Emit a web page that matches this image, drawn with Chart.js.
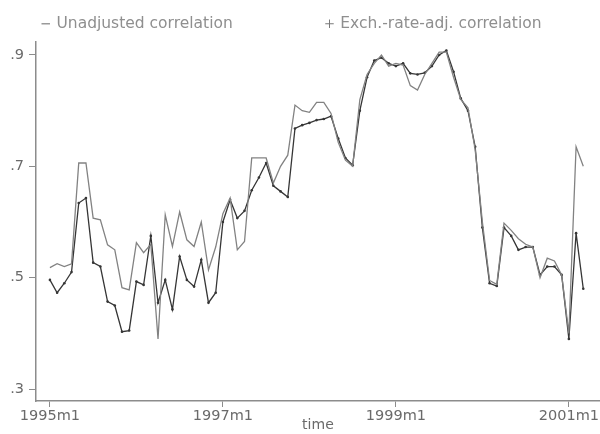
<!DOCTYPE html>
<html>
<head>
<meta charset="utf-8">
<script src="https://cdn.jsdelivr.net/npm/chart.js@4"></script>
<style>
  html, body { margin: 0; padding: 0; background: #fff; }
  canvas { display: block; }
</style>
</head>
<body>
<canvas id="corrChart" width="600" height="434"></canvas>
<script>
// === DATEN: Monatswerte ab 1995m1 (Index 0 = 1995m1) ===
const unadjusted = [
  .518, .525, .520, .525, .706, .706, .607, .604, .559, .550, .482, .478,
  .563, .545, .560, .390, .613, .556, .618, .568, .556, .600, .514, .555,
  .615, .643, .550, .565, .715, .715, .715, .670, .700, .720, .810, .800,
  .797, .815, .815, .795, .743, .711, .700, .820, .865, .885, .900, .880,
  .885, .882, .845, .837, .865, .885, .905, .905, .860, .820, .805, .730,
  .600, .495, .488, .598, .585, .570, .560, .555, .500, .535, .530, .505,
  .400, .735, .700
];
const exchAdjusted = [
  .496, .473, .490, .510, .634, .643, .527, .520, .457, .450, .403, .405,
  .493, .487, .575, .455, .496, .443, .538, .496, .484, .532, .455, .473,
  .600, .640, .607, .620, .657, .680, .706, .665, .655, .645, .768, .774,
  .778, .783, .785, .790, .750, .715, .702, .800, .860, .890, .895, .885,
  .880, .885, .867, .865, .868, .880, .900, .908, .870, .822, .800, .735,
  .590, .490, .485, .590, .575, .550, .555, .555, .505, .520, .520, .505,
  .390, .580, .480
];

// Achsenbeschriftungen
const xTickValues = [0, 24, 48, 72];
const xTickLabels = ['1995m1', '1997m1', '1999m1', '2001m1'];
const yTickValues = [.3, .5, .7, .9];
const yTickLabels = ['.3', '.5', '.7', '.9'];

const axisGray = '#8c8c8c';
const textGray = '#6a6a6a';

// Index -> {x, y}
function toXY(values) {
  return values.map((v, i) => ({ x: i, y: v }));
}

function plotCorrelation(canvasId) {
  const canvas = document.getElementById(canvasId);

  return new Chart(canvas, {
    type: 'line',
    data: {
      datasets: [
        {
          label: 'Unadjusted correlation',
          data: toXY(unadjusted),
          borderColor: '#828282',   // hellgrau
          borderWidth: 1.3,
          pointRadius: 0,
          backgroundColor: '#828282',
          tension: 0,
          fill: false
        },
        {
          label: 'Exch.-rate-adj. correlation',
          data: toXY(exchAdjusted),
          borderColor: '#363636',   // dunkelgrau mit Punkten
          borderWidth: 1.3,
          pointRadius: 1.3,
          pointBackgroundColor: '#363636',
          pointBorderWidth: 0,
          pointStyle: 'circle',
          backgroundColor: '#363636',
          tension: 0,
          fill: false
        }
      ]
    },
    options: {
      responsive: false,
      animation: false,
      // rechts negativ, damit die x-Achse bis an den Rand läuft
      layout: { autoPadding: false, padding: { top: 6, left: 0, right: -4, bottom: 0 } },
      plugins: {
        legend: {
          position: 'top',
          labels: {
            usePointStyle: true,
            boxWidth: 6,
            boxHeight: 6,
            padding: 10,
            color: '#8f8f8f',
            font: { family: 'DejaVu Sans', size: 15.5 },
            // Leerzeichen verteilen die beiden Einträge über die Breite
            generateLabels: (chart) => {
              const items = Chart.defaults.plugins.legend.labels.generateLabels(chart);
              items[0].text = items[0].text + ' '.repeat(17);
              items[0].pointStyle = 'line';
              items[0].strokeStyle = '#9a9a9a';
              items[1].text = items[1].text + ' '.repeat(4);
              items[1].pointStyle = 'cross';
              items[1].strokeStyle = '#7a7a7a';
              items[1].lineWidth = 1;
              return items;
            }
          }
        },
        tooltip: { enabled: false }
      },
      scales: {
        x: {
          type: 'linear',
          min: -1.93,
          max: 76.3,
          grid: { drawOnChartArea: false, drawTicks: true, tickLength: 6, color: axisGray },
          border: { display: true, color: axisGray, width: 1.5 },
          afterBuildTicks: (scale) => { scale.ticks = xTickValues.map(v => ({ value: v })); },
          afterFit: (scale) => { scale.height = 33; },
          ticks: {
            color: textGray,
            padding: 1,
            maxRotation: 0,
            font: { family: 'DejaVu Sans', size: 14.5 },
            callback: (value) => xTickLabels[xTickValues.indexOf(value)]
          },
          title: {
            display: true,
            text: 'time',
            color: textGray,
            padding: { top: 0, bottom: 0 },
            font: { family: 'DejaVu Sans', size: 14 }
          }
        },
        y: {
          min: .2785,
          max: .9242,
          grid: { drawOnChartArea: false, drawTicks: true, tickLength: 7, color: axisGray },
          border: { display: true, color: axisGray, width: 1.5 },
          afterBuildTicks: (scale) => { scale.ticks = yTickValues.map(v => ({ value: v })); },
          afterFit: (scale) => { scale.width = 36; },
          ticks: {
            color: textGray,
            padding: 5,
            font: { family: 'DejaVu Sans', size: 14.5 },
            callback: (value) => yTickLabels[yTickValues.indexOf(value)]
          }
        }
      }
    }
  });
}

plotCorrelation('corrChart');
</script>
</body>
</html>
